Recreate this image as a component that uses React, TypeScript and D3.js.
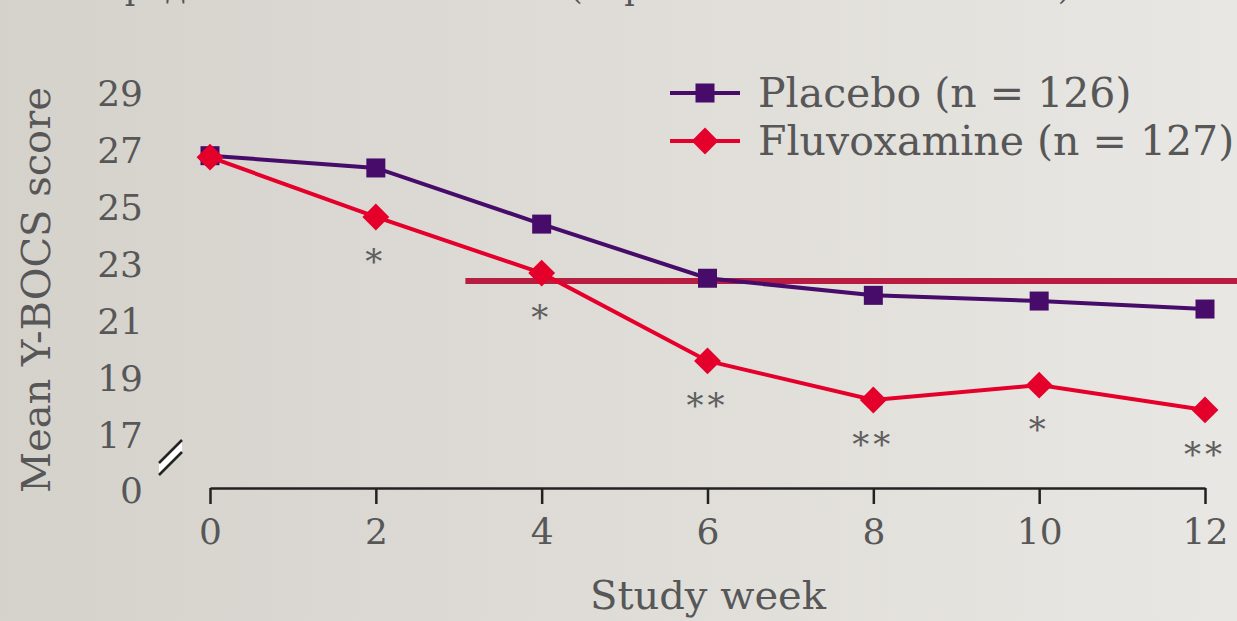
import React, { useEffect, useRef } from "react";
import * as d3 from "d3";

const weeks = [0, 2, 4, 6, 8, 10, 12];
const placebo = [26.8, 26.37, 24.4, 22.5, 21.9, 21.7, 21.42];
const fluvoxamine = [26.75, 24.65, 22.68, 19.6, 18.23, 18.75, 17.88];
const significance = ["", "*", "*", "**", "**", "*", "**"];
const yTicks = [0, 17, 19, 21, 23, 25, 27, 29];
const thresholdValue = 22.4;
const thresholdStart = 3.08;

const placeboLabel = "Placebo (n = 126)";
const fluvoxLabel = "Fluvoxamine (n = 127)";
const titleText = "Средние баллы по Y-BOCS (первичная конечная точка)";

const W = 1237;
const H = 621;
const FONT = "'DejaVu Serif', Georgia, serif";
const TEXT = "#575757";
const PURPLE = "#470b69";
const RED = "#e4002b";
const CRIMSON = "#b71d40";

function drawChart(node: SVGSVGElement) {
  const svg = d3.select(node);
  svg.selectAll("*").remove();

  const defs = svg.append("defs");
  const grad = defs
    .append("linearGradient")
    .attr("id", "bg")
    .attr("x1", "0%")
    .attr("y1", "0%")
    .attr("x2", "100%")
    .attr("y2", "0%");
  grad.append("stop").attr("offset", "0%").attr("stop-color", "#d5d2cc");
  grad.append("stop").attr("offset", "100%").attr("stop-color", "#e9e7e3");

  svg.append("rect").attr("width", W).attr("height", H).attr("fill", "url(#bg)");

  const x = d3.scaleLinear().domain([0, 12]).range([210, 1205]);
  // broken axis: 0 sits just below 17
  const y = d3.scaleLinear().domain([0, 17, 29]).range([490, 435, 93]);

  // title, mostly above the top edge as in the reference
  svg
    .append("text")
    .attr("x", 585)
    .attr("y", -1.5)
    .attr("text-anchor", "middle")
    .style("font-family", FONT)
    .style("font-size", "33px")
    .attr("fill", TEXT)
    .text(titleText);

  // threshold line
  svg
    .append("line")
    .attr("x1", x(thresholdStart))
    .attr("x2", W)
    .attr("y1", y(thresholdValue))
    .attr("y2", y(thresholdValue))
    .attr("stroke", CRIMSON)
    .attr("stroke-width", 6);

  // x axis
  const xAxis = svg
    .append("g")
    .attr("transform", `translate(0,${y(0) - 2})`)
    .call(
      d3
        .axisBottom(x)
        .tickValues(weeks)
        .tickSize(16)
        .tickSizeOuter(0)
        .tickPadding(14)
        .tickFormat((d) => String(d))
    );
  xAxis.select(".domain").attr("stroke", "#222").attr("stroke-width", 2.5);
  xAxis.selectAll(".tick line").attr("stroke", "#222").attr("stroke-width", 2.5);
  xAxis
    .selectAll(".tick text")
    .attr("fill", TEXT)
    .style("font-family", FONT)
    .style("font-size", "36px");

  // y tick labels only
  svg
    .append("g")
    .selectAll("text")
    .data(yTicks)
    .enter()
    .append("text")
    .attr("x", 143)
    .attr("y", (d) => y(d))
    .attr("dy", "0.36em")
    .attr("text-anchor", "end")
    .attr("fill", TEXT)
    .style("font-family", FONT)
    .style("font-size", "36px")
    .text((d) => d);

  // axis break mark
  const brk = svg.append("g");
  brk
    .append("polygon")
    .attr("points", "159,463 182,440 182,452 159,475")
    .attr("fill", "#fff");
  brk
    .append("line")
    .attr("x1", 159).attr("y1", 463).attr("x2", 182).attr("y2", 440)
    .attr("stroke", "#222").attr("stroke-width", 2.5);
  brk
    .append("line")
    .attr("x1", 159).attr("y1", 475).attr("x2", 182).attr("y2", 452)
    .attr("stroke", "#222").attr("stroke-width", 2.5);

  // axis titles
  svg
    .append("text")
    .attr("transform", `translate(50,290) rotate(-90)`)
    .attr("text-anchor", "middle")
    .attr("fill", TEXT)
    .style("font-family", FONT)
    .style("font-size", "40px")
    .text("Mean Y-BOCS score");

  svg
    .append("text")
    .attr("x", 708)
    .attr("y", 609)
    .attr("text-anchor", "middle")
    .attr("fill", TEXT)
    .style("font-family", FONT)
    .style("font-size", "40px")
    .text("Study week");

  const line = d3
    .line<number>()
    .x((_, i) => x(weeks[i]))
    .y((d) => y(d));

  // placebo
  svg
    .append("path")
    .datum(placebo)
    .attr("d", line)
    .attr("fill", "none")
    .attr("stroke", PURPLE)
    .attr("stroke-width", 4);

  const square = d3.symbol().type(d3.symbolSquare).size(19 * 19);
  const diamond = d3.symbol().type(d3.symbolSquare).size(19 * 19);

  svg
    .append("g")
    .selectAll("path")
    .data(placebo)
    .enter()
    .append("path")
    .attr("d", square)
    .attr("transform", (d, i) => `translate(${x(weeks[i])},${y(d)})`)
    .attr("fill", PURPLE);

  // fluvoxamine
  svg
    .append("path")
    .datum(fluvoxamine)
    .attr("d", line)
    .attr("fill", "none")
    .attr("stroke", RED)
    .attr("stroke-width", 4);

  svg
    .append("g")
    .selectAll("path")
    .data(fluvoxamine)
    .enter()
    .append("path")
    .attr("d", diamond)
    .attr("transform", (d, i) => `translate(${x(weeks[i])},${y(d)}) rotate(45)`)
    .attr("fill", RED);

  // significance stars under the fluvoxamine points
  svg
    .append("g")
    .selectAll("text")
    .data(significance)
    .enter()
    .append("text")
    .attr("x", (_, i) => x(weeks[i]))
    .attr("y", (_, i) => y(fluvoxamine[i]) + 56)
    .attr("text-anchor", "middle")
    .attr("fill", "#5e5e5e")
    .style("font-family", FONT)
    .style("font-size", "34px")
    .style("letter-spacing", "4px")
    .text((d) => d);

  // legend
  const legend = svg.append("g");
  const rows = [
    { label: placeboLabel, color: PURPLE, shape: square, rot: 0, y: 93 },
    { label: fluvoxLabel, color: RED, shape: diamond, rot: 45, y: 141 },
  ];
  rows.forEach((r) => {
    const g = legend.append("g").attr("transform", `translate(0,${r.y})`);
    g.append("line")
      .attr("x1", 670)
      .attr("x2", 740)
      .attr("stroke", r.color)
      .attr("stroke-width", 4);
    g.append("path")
      .attr("d", r.shape)
      .attr("transform", `translate(705,0) rotate(${r.rot})`)
      .attr("fill", r.color);
    g.append("text")
      .attr("x", 758)
      .attr("y", 14)
      .attr("fill", TEXT)
      .style("font-family", FONT)
      .style("font-size", "41px")
      .text(r.label);
  });
}

export default function App() {
  const ref = useRef<SVGSVGElement>(null);

  useEffect(() => {
    document.body.style.margin = "0";
    if (ref.current) drawChart(ref.current);
  }, []);

  return <svg ref={ref} width={W} height={H} style={{ display: "block" }} />;
}
